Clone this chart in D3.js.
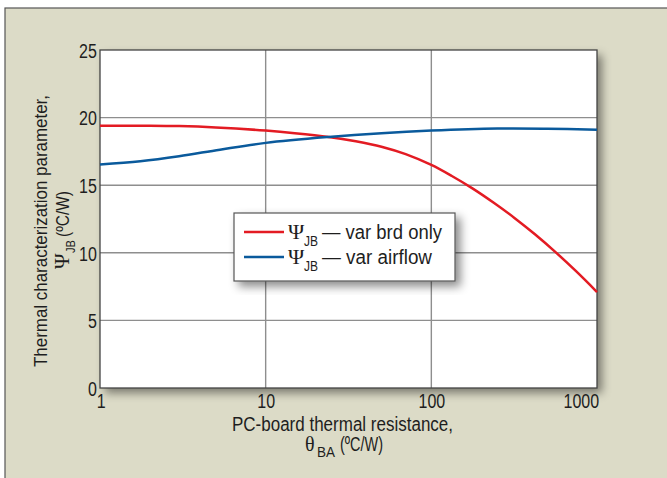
<!DOCTYPE html>
<html><head><meta charset="utf-8">
<script src="https://cdn.jsdelivr.net/npm/d3@7"></script>
<style>
body{margin:0;background:#fff;}
text{font-family:"Liberation Sans",Arial,sans-serif;fill:#1e1e1e;}
.serif{font-family:"Liberation Serif","DejaVu Serif",serif;}
</style></head><body>
<svg id="c" width="667" height="478"></svg>
<script>
const xTicks = [1, 10, 100, 1000];
const yTicks = [0, 5, 10, 15, 20, 25];
const redX = [1, 2, 3, 5, 10, 15, 24, 35, 50, 70, 100, 133, 178, 237, 316, 422, 562, 750, 1000];
const redY = [19.4, 19.4, 19.37, 19.27, 19.04, 18.85, 18.57, 18.25, 17.85, 17.3, 16.5, 15.68, 14.75, 13.72, 12.6, 11.37, 10.05, 8.62, 7.1];
const blueX = [1, 1.75, 3, 5.3, 10, 24, 50, 100, 250, 500, 1000];
const blueY = [16.53, 16.77, 17.14, 17.63, 18.13, 18.57, 18.85, 19.04, 19.19, 19.18, 19.11];
const legendLabels = ["— var brd only", "— var airflow"];
const colors = ["#e31b23", "#0a5a9c"];

const svg = d3.select("#c");
const W = 667, H = 478;
const m = {l: 100, r: 597, t: 50, b: 388};
const SX = 0.8;

svg.append("rect").attr("x", 0).attr("y", 0).attr("width", W).attr("height", H).attr("fill", "#fff");
svg.append("rect").attr("x", 5).attr("y", 8).attr("width", W).attr("height", H).attr("fill", "#dcdbc7")
  .attr("stroke", "#555").attr("stroke-width", 1.2);

const defs = svg.append("defs");
const f = defs.append("filter").attr("id", "sh").attr("x", "-10%").attr("y", "-10%").attr("width", "130%").attr("height", "130%");
f.append("feDropShadow").attr("dx", 5).attr("dy", 5).attr("stdDeviation", 5).attr("flood-color", "#000").attr("flood-opacity", 0.45);

const x = d3.scaleLog().domain([1, 1000]).range([m.l, m.r]);
const y = d3.scaleLinear().domain([0, 25]).range([m.b, m.t]);

svg.append("rect").attr("x", m.l).attr("y", m.t).attr("width", m.r - m.l).attr("height", m.b - m.t)
  .attr("fill", "#fff").attr("filter", "url(#sh)");

const g = svg.append("g");
g.selectAll(".vg").data([10, 100]).join("line")
  .attr("x1", d => x(d)).attr("x2", d => x(d)).attr("y1", m.t).attr("y2", m.b)
  .attr("stroke", "#8e8e8e").attr("stroke-width", 1.4);
g.selectAll(".hg").data([5, 10, 15, 20]).join("line")
  .attr("x1", m.l).attr("x2", m.r).attr("y1", d => y(d)).attr("y2", d => y(d))
  .attr("stroke", "#8e8e8e").attr("stroke-width", 1.4);

svg.append("rect").attr("x", m.l).attr("y", m.t).attr("width", m.r - m.l).attr("height", m.b - m.t)
  .attr("fill", "none").attr("stroke", "#444").attr("stroke-width", 1.3);

const xa = svg.append("g").attr("transform", `translate(0,${m.b})`)
  .call(d3.axisBottom(x).tickValues(xTicks).tickFormat(d3.format("d")).tickSize(0).tickPadding(0));
xa.select(".domain").remove();
xa.selectAll("text").attr("font-size", 20).style("font-family", null)
  .attr("y", 20).attr("dy", 0)
  .attr("text-anchor", d => d === 1000 ? "end" : "middle")
  .attr("x", d => d === 1000 ? 2 : (d === 1 ? 1 : 0))
  .attr("transform", `scale(${SX},1)`);
const ya = svg.append("g").attr("transform", `translate(${m.l},0)`)
  .call(d3.axisLeft(y).tickValues(yTicks).tickSize(0).tickPadding(4));
ya.select(".domain").remove();
ya.selectAll("text").attr("font-size", 20).style("font-family", null).attr("dy", "0.36em")
  .attr("transform", `scale(${SX},1)`);

const line = d3.line().x(d => x(d[0])).y(d => y(d[1])).curve(d3.curveCatmullRom.alpha(0.5));
svg.append("path").datum(redX.map((v, i) => [v, redY[i]])).attr("d", line)
  .attr("fill", "none").attr("stroke", colors[0]).attr("stroke-width", 2.5);
svg.append("path").datum(blueX.map((v, i) => [v, blueY[i]])).attr("d", line)
  .attr("fill", "none").attr("stroke", colors[1]).attr("stroke-width", 2.5);

const lg = svg.append("g");
lg.append("rect").attr("x", 234).attr("y", 213).attr("width", 221).attr("height", 68)
  .attr("fill", "#fff").attr("stroke", "#555").attr("stroke-width", 1.2).attr("filter", "url(#sh)");
const legW = [120, 110];
legendLabels.forEach((t, i) => {
  const yy = 232 + i * 25;
  lg.append("line").attr("x1", 244).attr("x2", 284).attr("y1", yy).attr("y2", yy)
    .attr("stroke", colors[i]).attr("stroke-width", 2.5);
  lg.append("text").attr("class", "serif").attr("x", 288).attr("y", yy + 7).attr("font-size", 22).text("Ψ");
  lg.append("text").attr("x", 304).attr("y", yy + 14).attr("font-size", 14)
    .attr("textLength", 14).attr("lengthAdjust", "spacingAndGlyphs").text("JB");
  lg.append("text").attr("x", 322).attr("y", yy + 7).attr("font-size", 20)
    .attr("textLength", legW[i]).attr("lengthAdjust", "spacingAndGlyphs").text(t);
});

const yg = svg.append("g").attr("transform", "translate(0,231) rotate(-90)");
yg.append("text").attr("x", -136).attr("y", 47).attr("font-size", 19)
  .attr("textLength", 272).attr("lengthAdjust", "spacingAndGlyphs").text("Thermal characterization parameter,");
yg.append("text").attr("class", "serif").attr("x", -38).attr("y", 69).attr("font-size", 21).text("Ψ");
yg.append("text").attr("x", -22).attr("y", 75).attr("font-size", 13)
  .attr("textLength", 13).attr("lengthAdjust", "spacingAndGlyphs").text("JB");
yg.append("text").attr("x", -6).attr("y", 69).attr("font-size", 19)
  .attr("textLength", 46).attr("lengthAdjust", "spacingAndGlyphs").text("(ºC/W)");

svg.append("text").attr("x", 232).attr("y", 431).attr("font-size", 20)
  .attr("textLength", 221).attr("lengthAdjust", "spacingAndGlyphs").text("PC-board thermal resistance,");
svg.append("text").attr("class", "serif").attr("x", 305).attr("y", 451).attr("font-size", 20).text("θ");
svg.append("text").attr("x", 317).attr("y", 457).attr("font-size", 14)
  .attr("textLength", 18).attr("lengthAdjust", "spacingAndGlyphs").text("BA");
svg.append("text").attr("x", 340).attr("y", 451).attr("font-size", 20)
  .attr("textLength", 43).attr("lengthAdjust", "spacingAndGlyphs").text("(ºC/W)");
</script></body></html>
